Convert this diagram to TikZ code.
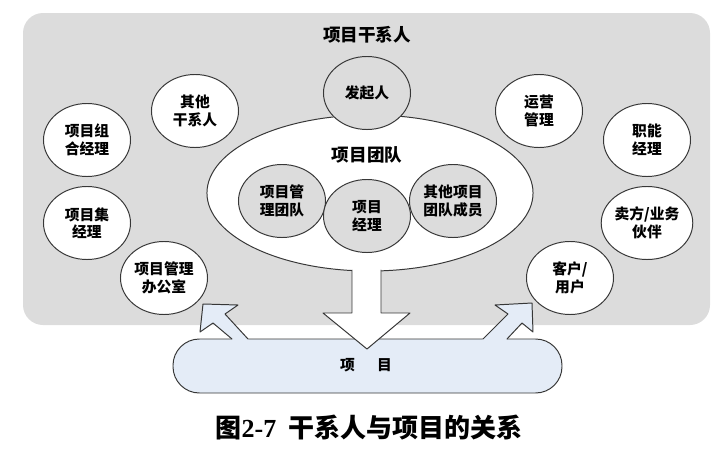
\documentclass[tikz,border=0pt]{standalone}
\usepackage{fontspec}
\setmainfont{Liberation Serif}
\newfontfamily\cjk{Noto Sans CJK SC}
\usepackage{tikz}
\usetikzlibrary{shapes.geometric}

\definecolor{panelgray}{RGB}{220,220,220}
\definecolor{blobblue}{RGB}{228,236,247}
\definecolor{edgegray}{RGB}{55,55,55}

\begin{document}
\begin{tikzpicture}[x=0.025cm, y=-0.025cm, line cap=round, line join=round,
  stake/.style={ellipse, draw=edgegray, line width=0.7pt, fill=white,
    minimum width=2.175cm, minimum height=1.825cm, inner sep=0pt, align=center,
    font=\cjk\bfseries\fontsize{10.5}{12.5}\selectfont},
  member/.style={stake, fill=panelgray},
  headtext/.style={font=\cjk\bfseries\fontsize{12.5}{14}\selectfont}]
  \useasboundingbox (0,0) rectangle (719,454);
  % ===== stakeholder panel =====
  \fill[panelgray, rounded corners=0.5cm] (23,13) rectangle (710,325);
  \node[headtext] (title) at (367,35) {项目干系人};
  % project team
  \node[ellipse, draw=edgegray, line width=0.7pt, fill=white, minimum width=8.15cm,
    minimum height=3.9cm] (team) at (370,193) {};
  \node[member] (sponsor) at (367,93) {发起人};
  \node[headtext] (teamlabel) at (367,155) {项目团队};
  \node[member] (pmteam) at (282,201) {项目管\\理团队};
  \node[member] (others) at (453,201) {其他项目\\团队成员};
  \node[member] (pm) at (367,216) {项目\\经理};
  % outer stakeholders, left side
  \node[stake] (otherstake) at (195,111) {其他\\干系人};
  \node[stake] (portfolio) at (87,140) {项目组\\合经理};
  \node[stake] (program) at (87,223) {项目集\\经理};
  \node[stake] (pmo) at (164,278) {项目管理\\办公室};
  % outer stakeholders, right side
  \node[stake] (ops) at (539,111) {运营\\管理};
  \node[stake] (functional) at (647,140) {职能\\经理};
  \node[stake] (seller) at (647,223) {卖方/业务\\伙伴};
  \node[stake] (customer) at (570,278) {客户/\\用户};
  % ===== project =====
  \draw[edgegray, fill=blobblue, line width=0.7pt, rounded corners=0.66cm]
    (173,339) rectangle (562,393);
  \node[font=\cjk\bfseries\fontsize{10.5}{12}\selectfont] (project) at (366,365)
    {项\hspace{1.5em}目};
  % side arrows out of the project
  \fill[blobblue] (230,343) -- (232,339) -- (213,323) -- (200,332) -- (203,304)
    -- (238,305) -- (225,314) -- (248,339) -- (251,343) -- cycle;
  \draw[edgegray, line width=0.7pt] (232,339) -- (213,323) -- (200,332) -- (203,304)
    -- (238,305) -- (225,314) -- (248,339);
  \fill[blobblue] (480,343) -- (483,339) -- (508,314) -- (495,305) -- (532,303)
    -- (533,332) -- (522,323) -- (507,339) -- (505,343) -- cycle;
  \draw[edgegray, line width=0.7pt] (483,339) -- (508,314) -- (495,305) -- (532,303)
    -- (533,332) -- (522,323) -- (507,339);
  % down arrow from the team
  \fill[white] (352,262) -- (352,313) -- (323,313) -- (367,349) -- (410,313)
    -- (381,313) -- (381,262) -- cycle;
  \draw[edgegray, line width=0.7pt] (352,270) -- (352,313) -- (323,313) -- (367,349)
    -- (410,313) -- (381,313) -- (381,270);
  % ===== caption =====
  \node[font=\cjk\bfseries\fontsize{18.5}{20}\selectfont] (caption) at (369,428)
    {图{\rmfamily\bfseries 2-7}\ \ 干系人与项目的关系};
\end{tikzpicture}
\end{document}
